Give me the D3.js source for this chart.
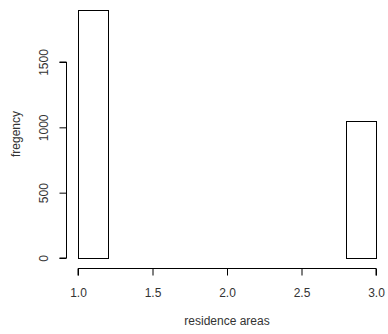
<!DOCTYPE html>
<html>
<head>
<meta charset="UTF-8">
<title>Histogram</title>
<script src="https://d3js.org/d3.v7.min.js"></script>
<style>
    body { margin: 0; background: #fff; }
    text { font-family: "Liberation Sans", Arial, sans-serif; font-size: 12px; fill: #333; }
</style>
</head>
<body>
<svg id="hist" width="388" height="334"></svg>
<script>
    // histogram bins (break edges) and counts
    const breaks = [1.0, 1.2, 1.4, 1.6, 1.8, 2.0, 2.2, 2.4, 2.6, 2.8, 3.0];
    const counts = [1900, 0, 0, 0, 0, 0, 0, 0, 0, 1045];
    const xTicks = [1.0, 1.5, 2.0, 2.5, 3.0];
    const yTicks = [0, 500, 1000, 1500];

    let svg = d3.select("svg#hist");

    const xScale = d3.scaleLinear().domain([1, 3]).range([78, 376]);
    const yScale = d3.scaleLinear().domain([0, 1500]).range([258, 62]);

    let bins = counts.map((c, i) => ({ x0: breaks[i], x1: breaks[i + 1], n: c }));

    // bars
    svg.append("g").selectAll("rect").data(bins)
        .join("rect")
        .attr("x", d => Math.round(xScale(d.x0)) + 0.5)
        .attr("y", d => Math.round(yScale(d.n)) + 0.5)
        .attr("width", d => Math.round(xScale(d.x1)) - Math.round(xScale(d.x0)))
        .attr("height", d => Math.round(yScale(0)) - Math.round(yScale(d.n)))
        .attr("fill", "none")
        .attr("stroke", "#000")
        .attr("stroke-width", 1);

    // x axis
    let bottomAxis = d3.axisBottom(xScale)
        .tickValues(xTicks)
        .tickSize(7)
        .tickPadding(13)
        .tickFormat(d3.format(".1f"));
    let gx = svg.append("g")
        .attr("transform", "translate(0,268.5)")
        .call(bottomAxis);
    gx.select(".domain").attr("stroke", "#000").attr("d", `M${xScale(1)},7V0H${xScale(3)}V7`);
    gx.selectAll(".tick line").attr("stroke", "#000");
    gx.selectAll(".tick text").style("font-size", "12px").attr("fill", "#333");

    // y axis
    let leftAxis = d3.axisLeft(yScale)
        .tickValues(yTicks)
        .tickSize(7)
        .tickFormat(d3.format("d"));
    let gy = svg.append("g")
        .attr("transform", "translate(66.5,0)")
        .call(leftAxis);
    gy.select(".domain").attr("stroke", "#000").attr("d", `M-7,${yScale(0)}H0V${yScale(1500)}H-7`);
    gy.selectAll(".tick line").attr("stroke", "#000");
    gy.selectAll(".tick text")
        .attr("x", 0).attr("dy", null)
        .attr("text-anchor", "middle")
        .attr("transform", "translate(-19,0) rotate(-90)")
        .style("font-size", "12px").attr("fill", "#333");

    // axis titles
    svg.append("text")
        .attr("x", xScale(2))
        .attr("y", 325)
        .attr("text-anchor", "middle")
        .text("residence areas");
    svg.append("text")
        .attr("transform", "translate(20," + 134 + ") rotate(-90)")
        .attr("text-anchor", "middle")
        .text("fregency");
</script>
</body>
</html>
